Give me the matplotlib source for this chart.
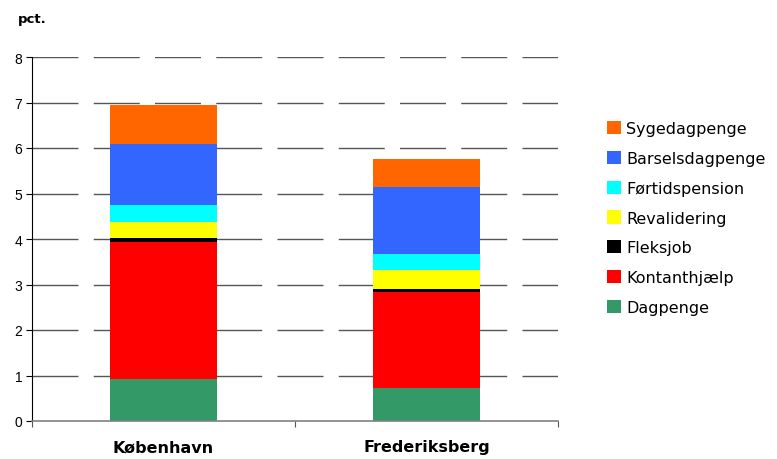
import numpy as np
import matplotlib.pyplot as plt
from matplotlib.patches import Patch

plt.rcParams['font.family'] = ['Liberation Sans', 'DejaVu Sans']

# Data (pct.)
categories = ["København", "Frederiksberg"]
series_names = ["Dagpenge", "Kontanthjælp", "Fleksjob", "Revalidering",
                "Førtidspension", "Barselsdagpenge", "Sygedagpenge"]
dagpenge = [0.92, 0.72]
kontanthjaelp = [3.01, 2.11]
fleksjob = [0.09, 0.07]
revalidering = [0.35, 0.42]
foertidspension = [0.38, 0.35]
barselsdagpenge = [1.34, 1.47]
sygedagpenge = [0.86, 0.62]

colors = ["#339966", "#FF0000", "#000000", "#FFFF00",
          "#00FFFF", "#3366FF", "#FF6600"]

series = [dagpenge, kontanthjaelp, fleksjob, revalidering,
          foertidspension, barselsdagpenge, sygedagpenge]

fig = plt.figure(figsize=(7.77, 4.6), dpi=100)
ax = fig.add_axes([32 / 777, 1 - 422 / 460, (558 - 32) / 777, (422 - 58) / 460])

x = np.arange(len(categories))
bottom = np.zeros(len(categories))
handles = []
for name, vals, col in zip(series_names, series, colors):
    ax.bar(x, vals, bottom=bottom, width=0.41, color=col, zorder=2)
    bottom += np.array(vals)
    handles.append(Patch(facecolor=col, label=name))

# Gridlines (long dashes)
for yv in range(1, 9):
    ax.axhline(yv, color="#555555", linewidth=1.0,
               linestyle=(0, (33.1, 11.0)), zorder=1)

ax.set_xlim(-0.5, 1.5)
ax.set_ylim(0, 8)
ax.set_yticks(range(0, 9))
ax.tick_params(axis="y", labelsize=10, length=4, width=0.8, direction="out", pad=3)

ax.set_xticks([-0.5, 0.5, 1.5])
ax.set_xticklabels([])
ax.tick_params(axis="x", length=4, width=0.8, color="#555555")
for xi, cat in zip(x, categories):
    ax.text(xi, -0.57, cat, ha="center", va="center", fontsize=11.5,
            fontweight="bold", family="DejaVu Sans", transform=ax.transData)

for s in ["top", "right"]:
    ax.spines[s].set_visible(False)
ax.spines["left"].set_color("#000000")
ax.spines["left"].set_linewidth(0.8)
ax.spines["bottom"].set_color("#808080")
ax.spines["bottom"].set_linewidth(1.2)

fig.text(18 / 777, 1 - 20 / 460, "pct.", fontsize=9.5, fontweight="bold",
         family="DejaVu Sans", ha="left", va="center")

leg = fig.legend(handles=handles[::-1], loc="center left",
                 bbox_to_anchor=(593 / 777, 1 - 219 / 460),
                 frameon=False, handlelength=0.88, handleheight=0.88,
                 handletextpad=0.3, labelspacing=0.93,
                 prop={"family": "DejaVu Sans", "size": 11.5})

fig.savefig("out.png", dpi=100)
